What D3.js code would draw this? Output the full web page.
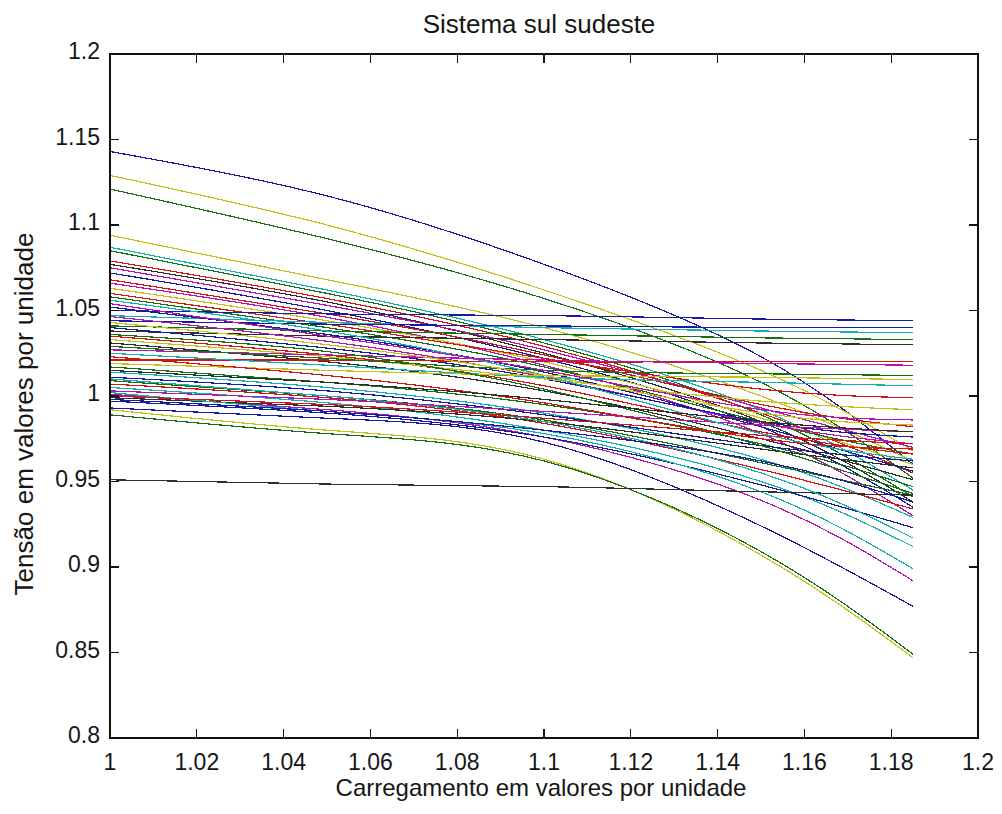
<!DOCTYPE html>
<html>
<head>
<meta charset="utf-8">
<script src="https://cdn.jsdelivr.net/npm/d3@7"></script>
<style>
  body { margin: 0; background: #fff; }
  svg text { font-family: "Liberation Sans", Arial, sans-serif; fill: #161616; }
  .curve { fill: none; stroke-width: 1.2; shape-rendering: crispEdges; }
  .frame { fill: none; stroke: #111; stroke-width: 1.3; shape-rendering: crispEdges; }
  .tick-mark { stroke: #111; stroke-width: 1.3; shape-rendering: crispEdges; }
</style>
</head>
<body>
<svg class="chart" width="1002" height="814" viewBox="0 0 1002 814"></svg>
<script>
var loadSteps = [1, 1.05, 1.1, 1.15, 1.185];

// bus voltages in p.u. at each load step
var voltageSeries = [
  [1.143, 1.117, 1.077, 1.023, 0.960],
  [1.129, 1.100, 1.062, 1.015, 0.968],
  [1.121, 1.092, 1.057, 1.008, 0.952],
  [1.094, 1.068, 1.040, 1.000, 0.962],
  [1.087, 1.062, 1.033, 0.992, 0.945],
  [1.085, 1.060, 1.031, 0.989, 0.941],
  [1.079, 1.057, 1.029, 0.990, 0.955],
  [1.077, 1.055, 1.025, 0.985, 0.938],
  [1.075, 1.053, 1.027, 0.993, 0.970],
  [1.072, 1.050, 1.022, 0.982, 0.935],
  [1.068, 1.048, 1.024, 0.995, 0.982],
  [1.066, 1.046, 1.018, 0.978, 0.930],
  [1.063, 1.044, 1.020, 0.987, 0.960],
  [1.060, 1.042, 1.022, 1.004, 0.999],
  [1.058, 1.040, 1.017, 0.985, 0.966],
  [1.050, 1.048, 1.047, 1.045, 1.044],
  [1.047, 1.043, 1.040, 1.038, 1.037],
  [1.044, 1.042, 1.041, 1.040, 1.040],
  [1.041, 1.038, 1.036, 1.034, 1.033],
  [1.038, 1.035, 1.033, 1.031, 1.030],
  [1.052, 1.036, 1.014, 0.982, 0.956],
  [1.0465, 1.032, 1.011, 0.984, 0.972],
  [1.040, 1.028, 1.010, 0.985, 0.976],
  [1.035, 1.024, 1.006, 0.979, 0.966],
  [1.033, 1.023, 1.010, 0.997, 0.992],
  [1.031, 1.020, 1.003, 0.975, 0.951],
  [1.021, 1.021, 1.020, 1.020, 1.020],
  [1.027, 1.024, 1.021, 1.019, 1.018],
  [1.029, 1.022, 1.015, 1.013, 1.012],
  [1.025, 1.018, 1.011, 1.008, 1.006],
  [1.019, 1.015, 1.012, 1.011, 1.0096],
  [1.017, 1.008, 0.995, 0.972, 0.947],
  [1.014, 1.005, 0.990, 0.963, 0.929],
  [1.011, 1.003, 0.989, 0.971, 0.962],
  [1.009, 1.000, 0.986, 0.961, 0.942],
  [1.007, 0.999, 0.984, 0.957, 0.934],
  [1.005, 0.996, 0.980, 0.950, 0.912],
  [1.001, 0.992, 0.976, 0.939, 0.892],
  [0.999, 0.994, 0.985, 0.969, 0.958],
  [0.997, 0.990, 0.976, 0.948, 0.923],
  [1.002, 0.991, 0.978, 0.944, 0.899],
  [0.993, 0.987, 0.973, 0.924, 0.877],
  [0.992, 0.980, 0.963, 0.907, 0.847],
  [0.989, 0.978, 0.962, 0.909, 0.849],
  [0.951, 0.9485, 0.947, 0.944, 0.942],
  [1.010, 1.000, 0.985, 0.955, 0.917],
  [1.003, 0.998, 0.991, 0.983, 0.979],
  [1.000, 0.995, 0.987, 0.977, 0.972],
  [0.998, 0.991, 0.980, 0.962, 0.938],
  [1.056, 1.038, 1.012, 0.978, 0.963],
  [1.054, 1.035, 1.015, 0.992, 0.986],
  [1.043, 1.030, 1.012, 0.990, 0.983],
  [1.036, 1.026, 1.004, 0.971, 0.943],
  [1.023, 1.012, 0.996, 0.975, 0.969],
  [1.015, 1.008, 0.998, 0.985, 0.979]
];

// matlab style colour letter for each series above
var seriesColorCodes = [
  "b", "y", "g", "y", "c", "g", "r", "k", "m", "b", "r", "m", "y", "r", "g",
  "b", "c", "b", "g", "k", "b", "m", "b", "r", "y", "k", "r", "m", "g", "c",
  "y", "g", "c", "b", "g", "r", "c", "m", "k", "b", "c", "b", "y", "g", "k",
  "c", "m", "r", "b", "c", "m", "y", "g", "r", "k"
];

var xTicks = [1, 1.02, 1.04, 1.06, 1.08, 1.1, 1.12, 1.14, 1.16, 1.18, 1.2];
var xTickLabels = ["1", "1.02", "1.04", "1.06", "1.08", "1.1", "1.12", "1.14", "1.16", "1.18", "1.2"];
var yTicks = [0.8, 0.85, 0.9, 0.95, 1, 1.05, 1.1, 1.15, 1.2];
var yTickLabels = ["0.8", "0.85", "0.9", "0.95", "1", "1.05", "1.1", "1.15", "1.2"];

var palette = {
  b: "#1a1aa0",
  g: "#157015",
  r: "#d41414",
  c: "#14b0b0",
  m: "#b414b0",
  y: "#c4c014",
  k: "#2e2e2e"
};

drawChart();

function drawChart() {
  var svg = d3.select("svg.chart");
  var box = { left: 110, right: 978, top: 54, bottom: 738 };

  var x = d3.scaleLinear().domain([1, 1.2]).range([box.left, box.right]);
  var y = d3.scaleLinear().domain([0.8, 1.2]).range([box.bottom, box.top]);

  var line = d3
    .line()
    .x(function(d) { return x(d[0]); })
    .y(function(d) { return y(d[1]); })
    .curve(d3.curveNatural);

  svg
    .append("rect")
    .attr("width", 1002)
    .attr("height", 814)
    .attr("fill", "#fff");

  svg
    .append("g")
    .selectAll("path")
    .data(voltageSeries)
    .enter()
    .append("path")
    .classed("curve", true)
    .attr("stroke", function(d, i) { return palette[seriesColorCodes[i]]; })
    .attr("d", function(values) {
      return line(values.map(function(v, i) { return [loadSteps[i], v]; }));
    });

  // box with inward ticks on all four sides, the way matlab draws it
  svg
    .append("rect")
    .classed("frame", true)
    .attr("x", box.left)
    .attr("y", box.top)
    .attr("width", box.right - box.left)
    .attr("height", box.bottom - box.top);

  var tickLength = 9;
  var ticks = svg.append("g");

  xTicks.forEach(function(t) {
    ticks.append("line").classed("tick-mark", true)
      .attr("x1", x(t)).attr("x2", x(t))
      .attr("y1", box.bottom).attr("y2", box.bottom - tickLength);
    ticks.append("line").classed("tick-mark", true)
      .attr("x1", x(t)).attr("x2", x(t))
      .attr("y1", box.top).attr("y2", box.top + tickLength);
  });

  yTicks.forEach(function(t) {
    ticks.append("line").classed("tick-mark", true)
      .attr("x1", box.left).attr("x2", box.left + tickLength)
      .attr("y1", y(t)).attr("y2", y(t));
    ticks.append("line").classed("tick-mark", true)
      .attr("x1", box.right).attr("x2", box.right - tickLength)
      .attr("y1", y(t)).attr("y2", y(t));
  });

  svg
    .append("g")
    .selectAll("text")
    .data(xTicks)
    .enter()
    .append("text")
    .attr("x", function(d) { return x(d); })
    .attr("y", box.bottom + 32)
    .attr("text-anchor", "middle")
    .style("font-size", "23px")
    .text(function(d, i) { return xTickLabels[i]; });

  svg
    .append("g")
    .selectAll("text")
    .data(yTicks)
    .enter()
    .append("text")
    .attr("x", box.left - 10)
    .attr("y", function(d) { return y(d) + 5; })
    .attr("text-anchor", "end")
    .style("font-size", "23px")
    .text(function(d, i) { return yTickLabels[i]; });

  svg
    .append("text")
    .attr("x", 539)
    .attr("y", 33)
    .attr("text-anchor", "middle")
    .style("font-size", "26px")
    .text("Sistema sul sudeste");

  svg
    .append("text")
    .attr("x", 541)
    .attr("y", 796)
    .attr("text-anchor", "middle")
    .style("font-size", "24px")
    .text("Carregamento em valores por unidade");

  svg
    .append("text")
    .attr("transform", "translate(33,414) rotate(-90)")
    .attr("text-anchor", "middle")
    .style("font-size", "26px")
    .text("Tensão em valores por unidade");
}
</script>
</body>
</html>
